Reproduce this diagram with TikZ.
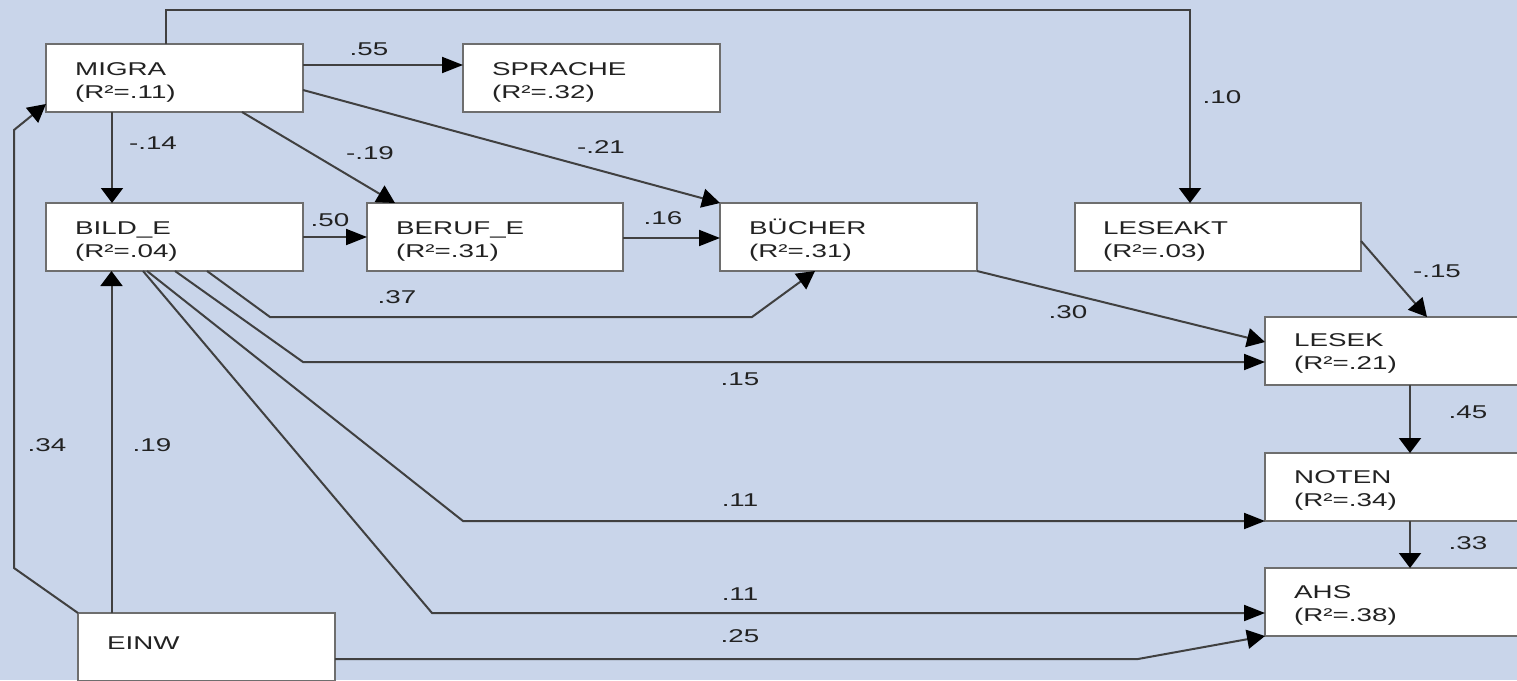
\documentclass[tikz,border=0pt]{standalone}
\usepackage{fontspec}
\usetikzlibrary{arrows.meta}
\newfontfamily\dfont[FakeStretch=1.5]{Liberation Sans}
\definecolor{bg}{HTML}{C9D5EA}
\definecolor{boxline}{HTML}{6E6E6E}
\definecolor{lin}{HTML}{404040}
\definecolor{txt}{HTML}{222222}
\tikzset{
 box/.style={draw=boxline, fill=white, line width=2.2pt, minimum height=68pt, inner sep=0pt, outer sep=0pt},
 btxt/.style={anchor=base west, inner sep=0pt, text=txt, font=\dfont\fontsize{18.5}{23}\selectfont},
 lab/.style={inner sep=0pt, text=txt, font=\dfont\fontsize{18.5}{23}\selectfont},
 con/.style={draw=lin, line width=2pt, line join=miter},
 harr/.style={con, -{Triangle[length=21pt,width=16pt,color=black]}},
 varr/.style={con, -{Triangle[length=15pt,width=22pt,color=black]}},
 darr/.style={con, -{Triangle[length=18pt,width=19pt,color=black]}},
}
\newcommand{\twol}[2]{\begin{tabular}[t]{@{}l@{}}#1\\#2\end{tabular}}
\begin{document}
\begin{tikzpicture}[x=1pt,y=-1pt]
\useasboundingbox (0,0) rectangle (1517,680);
\clip (0,0) rectangle (1517,680);
\fill[bg] (0,0) rectangle (1517,680);

% boxes
\node[box, minimum width=257pt] (migra)   at (174.5,78)  {};
\node[box, minimum width=257pt] (sprache) at (591.5,78)  {};
\node[box, minimum width=257pt] (bild)    at (174.5,237) {};
\node[box, minimum width=256pt] (beruf)   at (495,237)   {};
\node[box, minimum width=257pt] (buecher) at (848.5,237) {};
\node[box, minimum width=286pt] (leseakt) at (1218,237)  {};
\node[box, minimum width=257pt] (lesek)   at (1393.5,351) {};
\node[box, minimum width=257pt] (noten)   at (1393.5,487) {};
\node[box, minimum width=257pt] (ahs)     at (1393.5,602) {};
\node[box, minimum width=257pt] (einw)    at (206.5,647) {};

% box texts
\node[btxt] (migraT)   at ([shift={(29pt,-31pt)}]migra.north west)   {\twol{MIGRA}{(R²=.11)}};
\node[btxt] (spracheT) at ([shift={(29pt,-31pt)}]sprache.north west) {\twol{SPRACHE}{(R²=.32)}};
\node[btxt] (bildT)    at ([shift={(29pt,-31pt)}]bild.north west)    {\twol{BILD\_E}{(R²=.04)}};
\node[btxt] (berufT)   at ([shift={(29pt,-31pt)}]beruf.north west)   {\twol{BERUF\_E}{(R²=.31)}};
\node[btxt] (buecherT) at ([shift={(29pt,-31pt)}]buecher.north west) {\twol{BÜCHER}{(R²=.31)}};
\node[btxt] (leseaktT) at ([shift={(28pt,-31pt)}]leseakt.north west) {\twol{LESEAKT}{(R²=.03)}};
\node[btxt] (lesekT)   at ([shift={(29pt,-29pt)}]lesek.north west)   {\twol{LESEK}{(R²=.21)}};
\node[btxt] (notenT)   at ([shift={(29pt,-30pt)}]noten.north west)   {\twol{NOTEN}{(R²=.34)}};
\node[btxt] (ahsT)     at ([shift={(29pt,-30pt)}]ahs.north west)     {\twol{AHS}{(R²=.38)}};
\node[btxt] (einwT)    at ([shift={(29pt,-36pt)}]einw.north west)    {EINW};

% helper coordinates
\coordinate (c10) at (1190,10);
\coordinate (c37a) at (270,317);
\coordinate (c37b) at (752,317);
\coordinate (c15) at (303,362);
\coordinate (c11n) at (463,521);
\coordinate (c11a) at (432,613);
\coordinate (c34a) at (14,568);
\coordinate (c34b) at (14,130);
\coordinate (c25) at (1138,659);

% connectors
\draw[varr] ([xshift=-8.5pt]migra.north) |- (c10) -- ([xshift=-28pt]leseakt.north);
\draw[harr] ([yshift=13pt]migra.east) -- ([yshift=13pt]sprache.west);
\draw[varr] ([xshift=-62.5pt]migra.south) -- ([xshift=-62.5pt]bild.north);
\draw[darr] ([xshift=67.5pt]migra.south) -- ([xshift=-100pt]beruf.north);
\draw[darr] ([yshift=-12pt]migra.east) -- (buecher.north west);
\draw[harr] (bild.east) -- (beruf.west);
\draw[harr] ([yshift=-1pt]beruf.east) -- ([yshift=-1pt]buecher.west);
\draw[darr] ([xshift=32.5pt]bild.south) -- (c37a) -- (c37b) -- ([xshift=-33.5pt]buecher.south);
\draw[harr] ([xshift=0.5pt]bild.south) -- (c15) -- (c15 -| lesek.west);
\draw[harr] ([xshift=-27.5pt]bild.south) -- (c11n) -- (noten.south west);
\draw[harr] ([xshift=-31.5pt]bild.south) -- (c11a) -- (c11a -| ahs.west);
\draw[darr] (buecher.south east) -- ([yshift=9pt]lesek.west);
\draw[darr] ([yshift=-4pt]leseakt.east) -- ([xshift=33.5pt]lesek.north);
\draw[varr] ([xshift=16.5pt]lesek.south) -- ([xshift=16.5pt]noten.north);
\draw[varr] ([xshift=16.5pt]noten.south) -- ([xshift=16.5pt]ahs.north);
\draw[varr] ([xshift=-95pt]einw.north) -- ([xshift=-63pt]bild.south);
\draw[darr] (einw.north west) -- (c34a) -- (c34b) -- ([yshift=-26pt]migra.west);
\draw[darr] ([yshift=-12pt]einw.east) -- (c25) -- (ahs.south west);

% labels
\node[lab] (l55) at (369,49) {.55};
\node[lab] (l14) at (153,143) {-.14};
\node[lab] (l19a) at (370,153) {-.19};
\node[lab] (l21) at (601,147) {-.21};
\node[lab] (l50) at (330,220) {.50};
\node[lab] (l16) at (663,218) {.16};
\node[lab] (l37) at (397,297) {.37};
\node[lab] (l10) at (1222,97) {.10};
\node[lab] (l15b) at (1437,271) {-.15};
\node[lab] (l30) at (1068,312) {.30};
\node[lab] (l15) at (740,379) {.15};
\node[lab] (l45) at (1468,412) {.45};
\node[lab] (l11n) at (740,500) {.11};
\node[lab] (l33) at (1468,543) {.33};
\node[lab] (l11a) at (740,594) {.11};
\node[lab] (l25) at (740,636) {.25};
\node[lab] (l34) at (47,445) {.34};
\node[lab] (l19) at (152,445) {.19};
\end{tikzpicture}
\end{document}
